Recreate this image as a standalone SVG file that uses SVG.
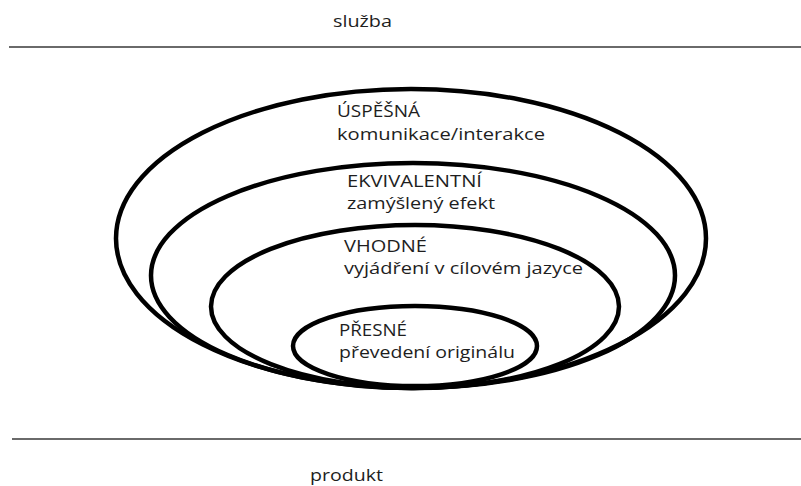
<svg xmlns="http://www.w3.org/2000/svg" width="801" height="486" viewBox="0 0 801 486">
<style>
.t{font-family:"Open Sans","Noto Sans",sans-serif;font-size:16.5px;fill:#1e1e1e}
.e{fill:none;stroke:#000;stroke-width:4.5}
.rule{stroke:#6a6a6a;stroke-width:2.2}
</style>
<rect width="801" height="486" fill="#fff"/>
<g id="top">
<line class="rule" x1="9" y1="47" x2="801" y2="47"/>
<text class="t" x="333" y="27" textLength="59" lengthAdjust="spacingAndGlyphs">služba</text>
</g>
<g id="bottom">
<line class="rule" x1="12" y1="439" x2="801" y2="439"/>
<text class="t" x="310" y="481" textLength="73" lengthAdjust="spacingAndGlyphs">produkt</text>
</g>
<g id="uspesna">
<ellipse class="e" cx="411" cy="238.5" rx="295" ry="149.5"/>
<text class="t" x="337" y="117" textLength="83" lengthAdjust="spacingAndGlyphs">ÚSPĚŠNÁ</text>
<text class="t" x="337" y="140" textLength="208" lengthAdjust="spacingAndGlyphs">komunikace/interakce</text>
</g>
<g id="ekvivalentni">
<ellipse class="e" cx="413" cy="275.5" rx="262" ry="112.5"/>
<text class="t" x="347" y="187" textLength="135" lengthAdjust="spacingAndGlyphs">EKVIVALENTNÍ</text>
<text class="t" x="347" y="209" textLength="148" lengthAdjust="spacingAndGlyphs">zamýšlený efekt</text>
</g>
<g id="vhodne">
<ellipse class="e" cx="415" cy="306.5" rx="204" ry="81.5"/>
<text class="t" x="344" y="252" textLength="83" lengthAdjust="spacingAndGlyphs">VHODNÉ</text>
<text class="t" x="344" y="274" textLength="239" lengthAdjust="spacingAndGlyphs">vyjádření v cílovém jazyce</text>
</g>
<g id="presne">
<ellipse class="e" cx="415" cy="346" rx="122" ry="40"/>
<text class="t" x="339" y="336" textLength="68" lengthAdjust="spacingAndGlyphs">PŘESNÉ</text>
<text class="t" x="339" y="358" textLength="176" lengthAdjust="spacingAndGlyphs">převedení originálu</text>
</g>
<g id="connectors"/>
</svg>
